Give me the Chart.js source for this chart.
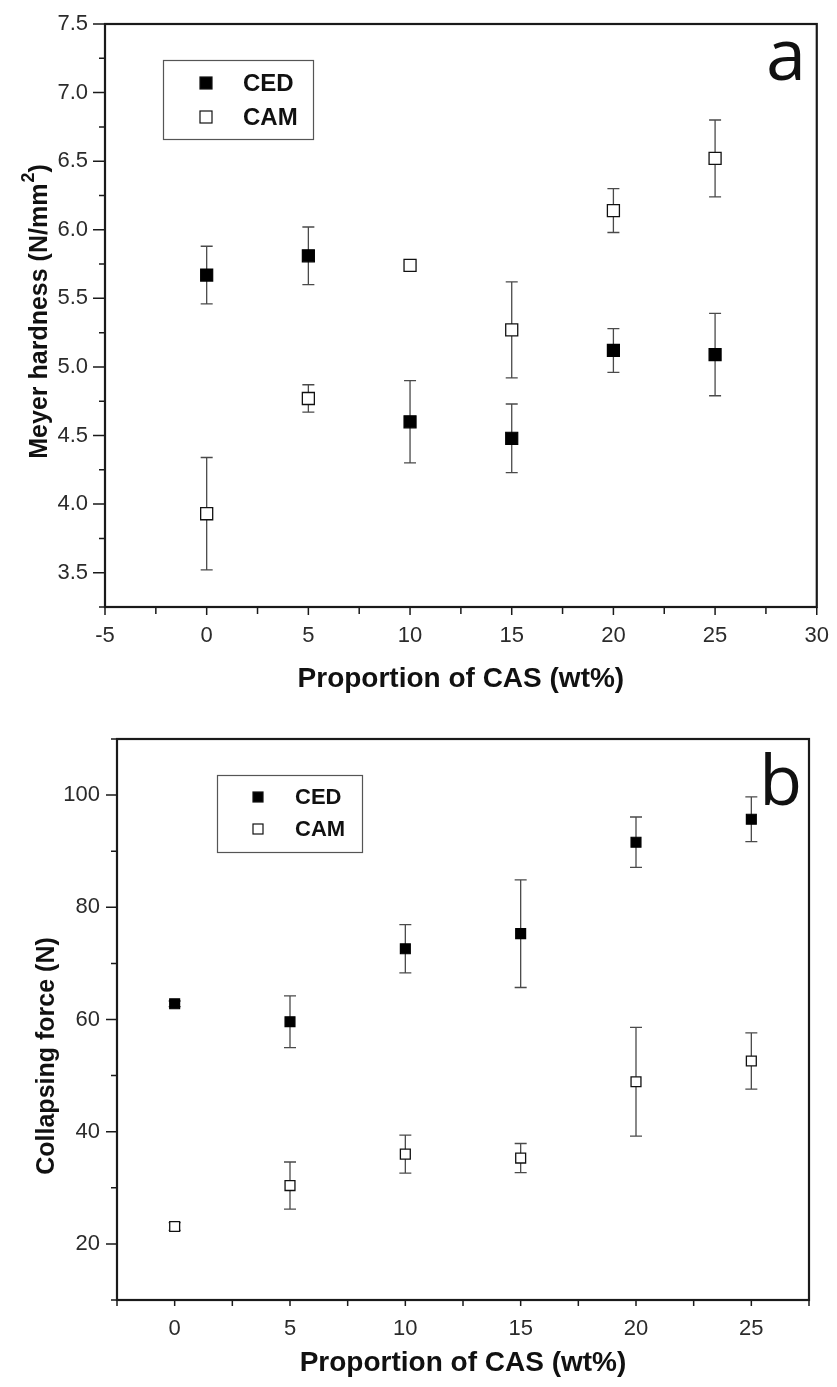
<!DOCTYPE html>
<html>
<head>
<meta charset="utf-8">
<script src="https://cdn.jsdelivr.net/npm/chart.js@4.4.1/dist/chart.umd.min.js"></script>
<style>
  html, body { margin: 0; padding: 0; background: #fff; }
  #caixaA { position: absolute; left: 0; top: 0; }
  #caixaB { position: absolute; left: 0; top: 693px; }
</style>
</head>
<body>
<div id="caixaA"><canvas id="graficoA" width="837" height="693"></canvas></div>
<div id="caixaB"><canvas id="graficoB" width="837" height="694"></canvas></div>
<script>
// ==========================
// DADOS
// ==========================
const casLevels = [0, 5, 10, 15, 20, 25];
const seriesNames = ["CED", "CAM"];

// (a) Meyer hardness, N/mm2
const hardnessCED    = [5.67, 5.81, 4.60, 4.48, 5.12, 5.09];
const hardnessCEDErr = [0.21, 0.21, 0.30, 0.25, 0.16, 0.30];
const hardnessCAM    = [3.93, 4.77, 5.74, 5.27, 6.14, 6.52];
const hardnessCAMErr = [0.41, 0.10, 0.02, 0.35, 0.16, 0.28];

// (b) Collapsing force, N
const forceCED    = [62.8, 59.6, 72.6, 75.3, 91.6, 95.7];
const forceCEDErr = [0.5, 4.6, 4.3, 9.6, 4.5, 4.0];
const forceCAM    = [23.1, 30.4, 36.0, 35.3, 48.9, 52.6];
const forceCAMErr = [0.7, 4.2, 3.4, 2.6, 9.7, 5.0];

const FONTE = '"Liberation Sans", Arial, sans-serif';
const FONTE_LETRA = '"Open Sans", sans-serif';

function pontos(valores) {
    return casLevels.map((x, i) => ({ x: x, y: valores[i] }));
}

function multiplo(v, passo) {
    const r = v / passo;
    return Math.abs(r - Math.round(r)) < 1e-6;
}

// ==========================
// PLUGIN: MOLDURA + TICKS
// ==========================
const moldura = {
    id: "moldura",
    beforeDatasetsDraw(chart, args, opts) {
        const { ctx, chartArea: a, scales } = chart;
        ctx.save();
        ctx.strokeStyle = "#1a1a1a";
        ctx.lineWidth = 1.5;
        ctx.beginPath();
        scales.x.ticks.forEach(t => {
            const px = scales.x.getPixelForValue(t.value);
            const len = t.label !== "" ? opts.xMaior : opts.xMenor;
            ctx.moveTo(px, a.bottom);
            ctx.lineTo(px, a.bottom + len);
        });
        scales.y.ticks.forEach(t => {
            const py = scales.y.getPixelForValue(t.value);
            const len = t.label !== "" ? opts.yMaior : opts.yMenor;
            ctx.moveTo(a.left, py);
            ctx.lineTo(a.left - len, py);
        });
        ctx.stroke();
        ctx.lineWidth = 2.2;
        ctx.strokeRect(a.left, a.top, a.right - a.left, a.bottom - a.top);
        ctx.restore();
    }
};

// ==========================
// PLUGIN: BARRAS DE ERRO
// ==========================
const barrasErro = {
    id: "barrasErro",
    beforeDatasetsDraw(chart, args, opts) {
        const { ctx, scales: { x, y } } = chart;
        ctx.save();
        ctx.strokeStyle = "#4a4a4a";
        ctx.lineWidth = 1.3;
        chart.data.datasets.forEach(ds => {
            ds.data.forEach((p, i) => {
                const e = ds.erros[i];
                const px = x.getPixelForValue(p.x);
                const topo = y.getPixelForValue(p.y + e);
                const base = y.getPixelForValue(p.y - e);
                ctx.beginPath();
                ctx.moveTo(px, topo); ctx.lineTo(px, base);
                ctx.moveTo(px - opts.cap, topo); ctx.lineTo(px + opts.cap, topo);
                ctx.moveTo(px - opts.cap, base); ctx.lineTo(px + opts.cap, base);
                ctx.stroke();
            });
        });
        ctx.restore();
    }
};

// ==========================
// PLUGIN: LEGENDA, LETRA E TITULO Y
// ==========================
const extras = {
    id: "extras",
    afterDraw(chart, args, opts) {
        const ctx = chart.ctx;
        const L = opts.legenda;
        ctx.save();
        // caixa da legenda
        ctx.strokeStyle = "#555";
        ctx.lineWidth = 1.2;
        ctx.strokeRect(L.x, L.y, L.w, L.h);
        chart.data.datasets.forEach((ds, i) => {
            const cy = L.linhas[i];
            const s = L.marca;
            ctx.fillStyle = ds.backgroundColor;
            ctx.fillRect(L.marcaX - s / 2, cy - s / 2, s, s);
            ctx.strokeStyle = "#111";
            ctx.lineWidth = 1.2;
            ctx.strokeRect(L.marcaX - s / 2, cy - s / 2, s, s);
            ctx.fillStyle = "#111";
            ctx.font = "bold " + L.fonte + "px " + FONTE;
            ctx.textAlign = "left";
            ctx.textBaseline = "middle";
            ctx.fillText(ds.label, L.textoX, cy + 1);
        });
        // letra do painel
        ctx.fillStyle = "#111";
        ctx.font = opts.letra.fonte + "px " + FONTE_LETRA;
        ctx.textAlign = "right";
        ctx.textBaseline = "alphabetic";
        ctx.fillText(opts.letra.texto, opts.letra.x, opts.letra.y);
        // titulo do eixo y (com expoente opcional)
        const T = opts.tituloY;
        ctx.translate(T.x, T.y);
        ctx.rotate(-Math.PI / 2);
        ctx.font = "bold " + T.fonte + "px " + FONTE;
        ctx.textBaseline = "middle";
        const wBase = ctx.measureText(T.texto).width;
        const wFim = ctx.measureText(T.fim || "").width;
        ctx.font = "bold " + Math.round(T.fonte * 0.7) + "px " + FONTE;
        const wSup = T.sup ? ctx.measureText(T.sup).width : 0;
        let x0 = -(wBase + wSup + wFim) / 2;
        ctx.textAlign = "left";
        ctx.font = "bold " + T.fonte + "px " + FONTE;
        ctx.fillText(T.texto, x0, 0);
        x0 += wBase;
        if (T.sup) {
            ctx.font = "bold " + Math.round(T.fonte * 0.7) + "px " + FONTE;
            ctx.fillText(T.sup, x0 + 1, -T.fonte * 0.42);
            x0 += wSup + 1;
            ctx.font = "bold " + T.fonte + "px " + FONTE;
            ctx.fillText(T.fim, x0, 0);
        }
        ctx.restore();
    }
};

function criarGrafico(id, cfg) {
    const ctx = document.getElementById(id);
    return new Chart(ctx, {
        type: "scatter",
        data: {
            datasets: [{
                label: seriesNames[0],
                data: pontos(cfg.ced),
                erros: cfg.cedErr,
                pointStyle: "rect",
                pointRadius: cfg.raio,
                backgroundColor: "#000",
                borderColor: "#000",
                borderWidth: 1.2
            }, {
                label: seriesNames[1],
                data: pontos(cfg.cam),
                erros: cfg.camErr,
                pointStyle: "rect",
                pointRadius: cfg.raio,
                backgroundColor: "#fff",
                borderColor: "#111",
                borderWidth: 1.3
            }]
        },
        options: {
            responsive: false,
            animation: false,
            events: [],
            layout: { padding: cfg.padding },
            scales: {
                x: {
                    type: "linear",
                    min: cfg.xMin,
                    max: cfg.xMax,
                    afterFit: s => { s.height = cfg.alturaX; },
                    border: { display: false },
                    grid: { display: true, drawOnChartArea: false, drawTicks: true, tickLength: 8, tickColor: "rgba(0,0,0,0)" },
                    ticks: {
                        stepSize: 2.5,
                        autoSkip: false,
                        maxRotation: 0,
                        padding: 8,
                        color: "#2b2b2b",
                        font: { family: FONTE, size: 22 },
                        callback: v => multiplo(v, 5) ? String(Math.round(v)) : ""
                    },
                    title: {
                        display: true,
                        text: "Proportion of CAS (wt%)",
                        color: "#111",
                        font: { family: FONTE, size: 28, weight: "bold", lineHeight: 1 },
                        padding: { top: 0, bottom: cfg.tituloXpad }
                    }
                },
                y: {
                    type: "linear",
                    min: cfg.yMin,
                    max: cfg.yMax,
                    afterFit: s => { s.width = cfg.larguraY; },
                    border: { display: false },
                    grid: { display: true, drawOnChartArea: false, drawTicks: true, tickLength: 12, tickColor: "rgba(0,0,0,0)" },
                    ticks: {
                        stepSize: cfg.yPasso,
                        autoSkip: false,
                        padding: 5,
                        color: "#2b2b2b",
                        font: { family: FONTE, size: 22 },
                        callback: cfg.yRotulo
                    }
                }
            },
            plugins: {
                legend: { display: false },
                tooltip: { enabled: false },
                moldura: cfg.ticks,
                barrasErro: { cap: 6 },
                extras: {
                    legenda: cfg.legenda,
                    letra: cfg.letra,
                    tituloY: cfg.tituloY
                }
            }
        },
        plugins: [moldura, barrasErro, extras]
    });
}

// ==========================
// PAINEL (a)
// ==========================
criarGrafico("graficoA", {
    ced: hardnessCED, cedErr: hardnessCEDErr,
    cam: hardnessCAM, camErr: hardnessCAMErr,
    raio: 8.5,
    padding: { top: 24, right: 15, left: 0, bottom: 0 },
    xMin: -5, xMax: 30,
    yMin: 3.25, yMax: 7.5, yPasso: 0.25,
    yRotulo: v => multiplo(v, 0.5) ? v.toFixed(1) : "",
    alturaX: 86, larguraY: 105, tituloXpad: 0,
    ticks: { xMaior: 8, xMenor: 7, yMaior: 12, yMenor: 6 },
    legenda: { x: 163.5, y: 60.5, w: 150, h: 79, marcaX: 206, linhas: [83, 117], marca: 12, textoX: 243, fonte: 24 },
    letra: { texto: "a", x: 806, y: 80, fonte: 72 },
    tituloY: { texto: "Meyer hardness (N/mm", sup: "2", fim: ")", x: 40, y: 312, fonte: 25 }
});

// ==========================
// PAINEL (b)
// ==========================
criarGrafico("graficoB", {
    ced: forceCED, cedErr: forceCEDErr,
    cam: forceCAM, camErr: forceCAMErr,
    raio: 7,
    padding: { top: 46, right: 28, left: 0, bottom: 0 },
    xMin: -2.5, xMax: 27.5,
    yMin: 10, yMax: 110, yPasso: 10,
    yRotulo: v => multiplo(v, 20) ? String(Math.round(v)) : "",
    alturaX: 87, larguraY: 117, tituloXpad: 10,
    ticks: { xMaior: 6, xMenor: 6, yMaior: 11, yMenor: 6 },
    legenda: { x: 217.5, y: 82.5, w: 145, h: 77, marcaX: 258, linhas: [104, 136], marca: 10, textoX: 295, fonte: 22 },
    letra: { texto: "b", x: 802, y: 112, fonte: 70 },
    tituloY: { texto: "Collapsing force (N)", x: 47, y: 363, fonte: 25 }
});
</script>
</body>
</html>
